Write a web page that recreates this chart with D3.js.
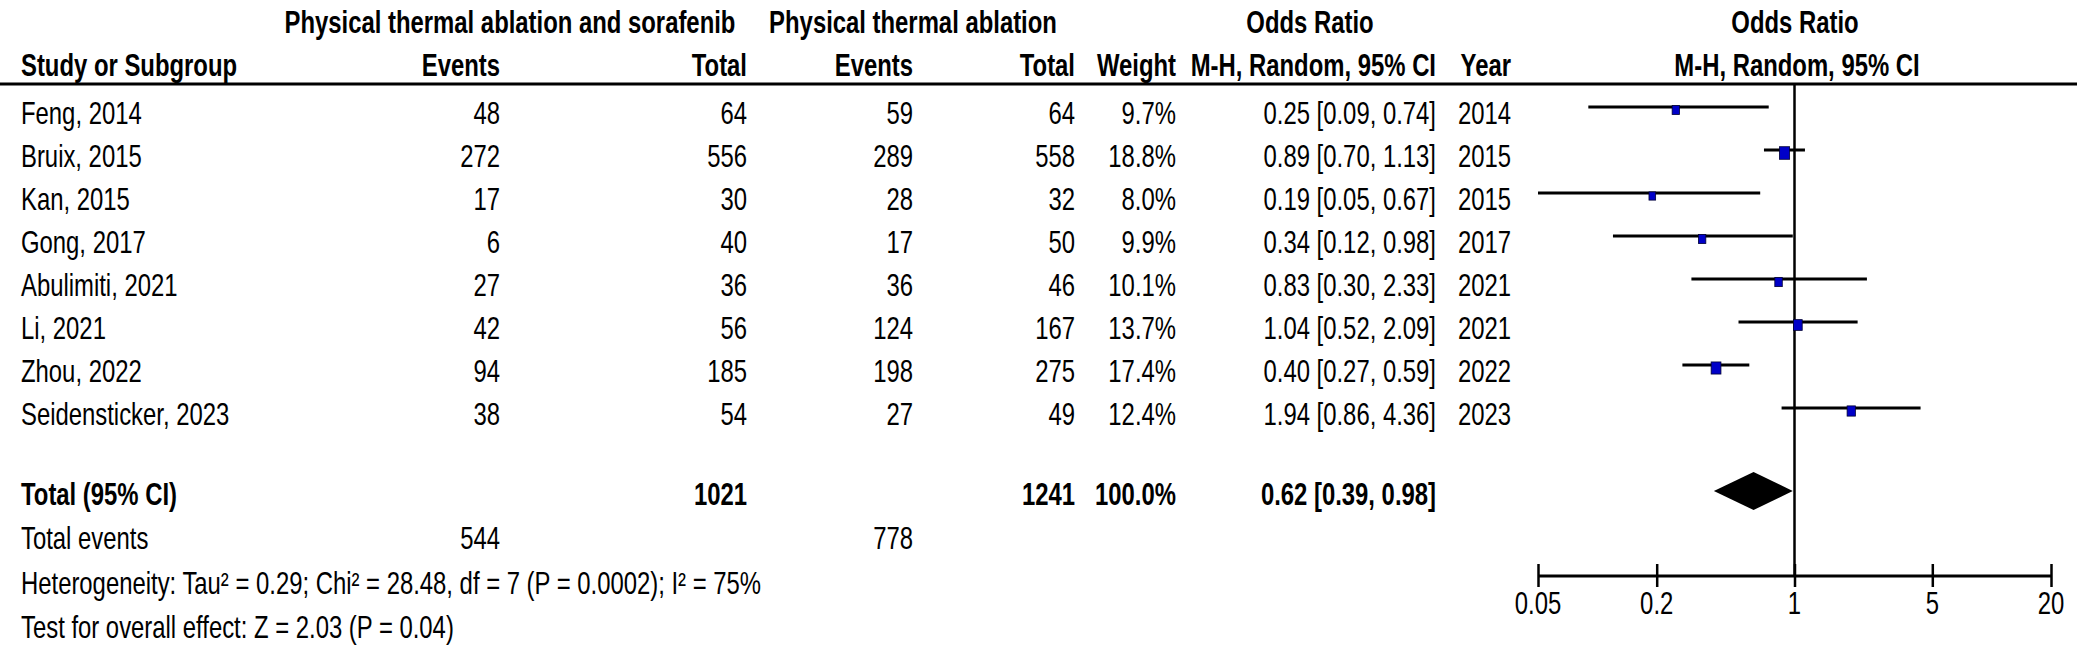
<!DOCTYPE html>
<html>
<head>
<meta charset="utf-8">
<script src="https://cdn.jsdelivr.net/npm/d3@7"></script>
<style>
  html, body { margin: 0; padding: 0; background: #fff; }
  svg { display: block; }
  text { font-family: "Liberation Sans", Arial, sans-serif; fill: #000; }
</style>
</head>
<body>
<svg id="chart" width="2079" height="650"></svg>
<script>
// ---------------- data ----------------
const studies   = ["Feng, 2014", "Bruix, 2015", "Kan, 2015", "Gong, 2017", "Abulimiti, 2021", "Li, 2021", "Zhou, 2022", "Seidensticker, 2023"];
const eventsExp = [48, 272, 17, 6, 27, 42, 94, 38];
const totalExp  = [64, 556, 30, 40, 36, 56, 185, 54];
const eventsCtl = [59, 289, 28, 17, 36, 124, 198, 27];
const totalCtl  = [64, 558, 32, 50, 46, 167, 275, 49];
const weights   = [9.7, 18.8, 8.0, 9.9, 10.1, 13.7, 17.4, 12.4];
const oddsRatio = [0.25, 0.89, 0.19, 0.34, 0.83, 1.04, 0.40, 1.94];
const ciLower   = [0.09, 0.70, 0.05, 0.12, 0.30, 0.52, 0.27, 0.86];
const ciUpper   = [0.74, 1.13, 0.67, 0.98, 2.33, 2.09, 0.59, 4.36];
const years     = [2014, 2015, 2015, 2017, 2021, 2021, 2022, 2023];
const pooled    = [0.62, 0.39, 0.98];         // OR, lower, upper
const totals    = [1021, 1241];               // total participants exp / ctl
const totalEvents = [544, 778];
const tickValues = [0.05, 0.2, 1, 5, 20];
const tickLabels = ["0.05", "0.2", "1", "5", "20"];
const heterogeneityText = "Heterogeneity: Tau\u00B2 = 0.29; Chi\u00B2 = 28.48, df = 7 (P = 0.0002); I\u00B2 = 75%";
const overallText = "Test for overall effect: Z = 2.03 (P = 0.04)";

// ---------------- layout ----------------
const svg = d3.select("#chart");
const FS = 31, SX = 0.77, CAP = 11;

function txt(x, yc, s, anchor = "start", bold = false) {
  const g = svg.append("g").attr("transform", `translate(${x},${yc + CAP}) scale(${SX},1)`);
  g.append("text")
    .attr("x", 0).attr("y", 0)
    .attr("text-anchor", anchor)
    .attr("font-size", FS)
    .attr("font-weight", bold ? "bold" : "normal")
    .text(s);
  return g;
}

const col = { name: 21, ev1: 500, tot1: 747, ev2: 913, tot2: 1075, wt: 1176, ci: 1436, year: 1511 };
const x = d3.scaleLog().domain([0.05, 20]).range([1538, 2051]);
const rowY = d3.scaleLinear().domain([0, studies.length - 1]).range([113, 414]);
const yTotal = 494, yTotEv = 538, yHet = 583, yTest = 627;
const axisY = 576, headerLineY = 84;
const fmt2 = d3.format(".2f");

// headers
txt(510, 22, "Physical thermal ablation and sorafenib", "middle", true);
txt(913, 22, "Physical thermal ablation", "middle", true);
txt(1310, 22, "Odds Ratio", "middle", true);
txt(1795, 22, "Odds Ratio", "middle", true);
txt(col.name, 65, "Study or Subgroup", "start", true);
txt(col.ev1, 65, "Events", "end", true);
txt(col.tot1, 65, "Total", "end", true);
txt(col.ev2, 65, "Events", "end", true);
txt(col.tot2, 65, "Total", "end", true);
txt(col.wt, 65, "Weight", "end", true);
txt(col.ci, 65, "M-H, Random, 95% CI", "end", true);
txt(col.year, 65, "Year", "end", true);
txt(1797, 65, "M-H, Random, 95% CI", "middle", true);

svg.append("line")
  .attr("x1", 0).attr("x2", 2077).attr("y1", headerLineY).attr("y2", headerLineY)
  .attr("stroke", "#000").attr("stroke-width", 3);

// study rows
studies.forEach((s, i) => {
  const y = rowY(i);
  txt(col.name, y, s, "start");
  txt(col.ev1, y, String(eventsExp[i]), "end");
  txt(col.tot1, y, String(totalExp[i]), "end");
  txt(col.ev2, y, String(eventsCtl[i]), "end");
  txt(col.tot2, y, String(totalCtl[i]), "end");
  txt(col.wt, y, d3.format(".1f")(weights[i]) + "%", "end");
  txt(col.ci, y, `${fmt2(oddsRatio[i])} [${fmt2(ciLower[i])}, ${fmt2(ciUpper[i])}]`, "end");
  txt(col.year, y, String(years[i]), "end");
});

// total rows
txt(col.name, yTotal, "Total (95% CI)", "start", true);
txt(col.tot1, yTotal, String(totals[0]), "end", true);
txt(col.tot2, yTotal, String(totals[1]), "end", true);
txt(col.wt, yTotal, d3.format(".1f")(d3.sum(weights)) + "%", "end", true);
txt(col.ci, yTotal, `${fmt2(pooled[0])} [${fmt2(pooled[1])}, ${fmt2(pooled[2])}]`, "end", true);
txt(col.name, yTotEv, "Total events", "start");
txt(col.ev1, yTotEv, String(totalEvents[0]), "end");
txt(col.ev2, yTotEv, String(totalEvents[1]), "end");
txt(col.name, yHet, heterogeneityText, "start");
txt(col.name, yTest, overallText, "start");

// reference line at OR = 1
svg.append("line")
  .attr("x1", x(1)).attr("x2", x(1)).attr("y1", headerLineY).attr("y2", axisY)
  .attr("stroke", "#000").attr("stroke-width", 2.5);

// CI lines + squares
const plot = svg.append("g");
studies.forEach((s, i) => {
  const yl = rowY(i) - 6;
  plot.append("line")
    .attr("x1", x(ciLower[i])).attr("x2", x(ciUpper[i]))
    .attr("y1", yl).attr("y2", yl)
    .attr("stroke", "#000").attr("stroke-width", 3);
  const w = 2.35 * Math.sqrt(weights[i]);
  const h = 2.9 * Math.sqrt(weights[i]);
  plot.append("rect")
    .attr("x", x(oddsRatio[i]) - w / 2).attr("y", yl + 3 - h / 2)
    .attr("width", w).attr("height", h)
    .attr("fill", "#0000c8").attr("stroke", "#000033").attr("stroke-width", 0.8);
});

// pooled diamond
const yd = yTotal - 3, hd = 19;
plot.append("path")
  .attr("d", `M${x(pooled[1])},${yd} L${x(pooled[0])},${yd - hd} L${x(pooled[2])},${yd} L${x(pooled[0])},${yd + hd} Z`)
  .attr("fill", "#000");

// axis
const axis = d3.axisBottom(x).tickValues(tickValues).tickFormat((d, i) => tickLabels[i]).tickSize(11).tickPadding(0);
const ag = svg.append("g").attr("transform", `translate(0,${axisY})`).call(axis);
ag.select(".domain").attr("stroke", "#000").attr("stroke-width", 3).attr("d", `M${x(0.05)},0H${x(20)}`);
ag.selectAll(".tick line").attr("y1", -12).attr("y2", 11).attr("stroke", "#000").attr("stroke-width", 2.5);
ag.selectAll(".tick text").remove();
tickValues.forEach((v, i) => txt(x(v), 603, tickLabels[i], "middle"));
</script>
</body>
</html>
